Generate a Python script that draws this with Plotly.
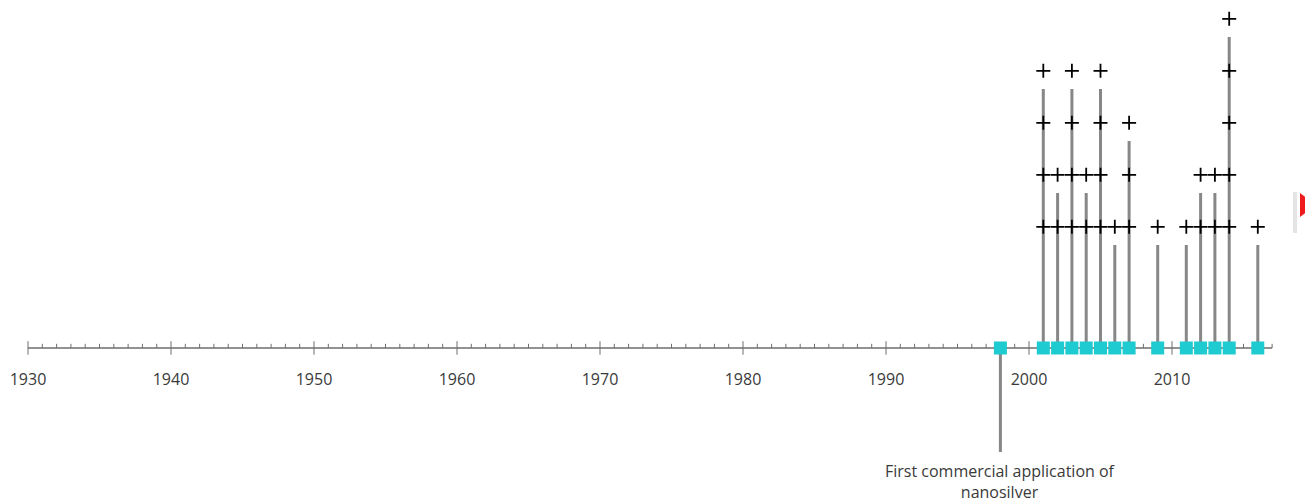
import plotly.graph_objects as go

# ---- data ----
years = [2001, 2002, 2003, 2004, 2005, 2006, 2007, 2009, 2011, 2012, 2013, 2014, 2016]
counts = [4, 2, 4, 2, 4, 1, 3, 1, 1, 2, 2, 5, 1]
milestone_year = [1998]
milestone_text = ["First commercial application of<br>nanosilver"]
axis_start, axis_end = 1930, 2017
tick_labels = [1930, 1940, 1950, 1960, 1970, 1980, 1990, 2000, 2010]

# ---- styling constants ----
STEM_COLOR = "#878787"
SQ_COLOR = "#1ecbd0"
AXIS_COLOR = "#6e6e6e"
TEXT_COLOR = "#3a3a3a"
FONT = "Open Sans"
STEM_EXTRA = 0.98
CROSS_OFFSET = 1.33
DOWN_STEM = -2.0

fig = go.Figure()

# axis line
fig.add_trace(go.Scatter(x=[axis_start, axis_end], y=[0, 0], mode="lines",
                         line=dict(color=AXIS_COLOR, width=1.5), hoverinfo="skip"))

# ticks
tx, ty = [], []
for yr in range(axis_start, axis_end + 1):
    if yr % 10 == 0:
        tx += [yr, yr, None]
        ty += [-0.13, 0.13, None]
    else:
        tx += [yr, yr, None]
        ty += [0, 0.08, None]
fig.add_trace(go.Scatter(x=tx, y=ty, mode="lines",
                         line=dict(color=AXIS_COLOR, width=1), hoverinfo="skip"))

# tick labels
fig.add_trace(go.Scatter(x=tick_labels, y=[-0.63] * len(tick_labels), mode="text",
                         text=[str(t) for t in tick_labels],
                         textfont=dict(family=FONT, size=16, color=TEXT_COLOR),
                         hoverinfo="skip"))

# up stems
sx, sy = [], []
for yr, n in zip(years, counts):
    sx += [yr, yr, None]
    sy += [0, n + STEM_EXTRA, None]
# down stem for milestone
for yr in milestone_year:
    sx += [yr, yr, None]
    sy += [0, DOWN_STEM, None]
fig.add_trace(go.Scatter(x=sx, y=sy, mode="lines",
                         line=dict(color=STEM_COLOR, width=3), hoverinfo="skip"))

# plus markers
px_, py_ = [], []
for yr, n in zip(years, counts):
    for k in range(1, n + 1):
        px_.append(yr)
        py_.append(k + CROSS_OFFSET)
fig.add_trace(go.Scatter(x=px_, y=py_, mode="markers",
                         marker=dict(symbol="cross-thin", size=10,
                                     line=dict(color="black", width=1.8)),
                         hoverinfo="skip"))

# squares on axis
fig.add_trace(go.Scatter(x=milestone_year + years, y=[0] * (len(years) + 1), mode="markers",
                         marker=dict(symbol="square", size=13, color=SQ_COLOR),
                         hoverinfo="skip"))

# milestone label
annotations = [
    dict(x=yr, y=DOWN_STEM, xref="x", yref="y", text=t, showarrow=False,
         yanchor="top", xanchor="center", yshift=-6,
         font=dict(family=FONT, size=16, color=TEXT_COLOR))
    for yr, t in zip(milestone_year, milestone_text)
]

W, H = 1305, 494  # page body has an 8px default margin
# flag decoration at right edge
shapes = [
    dict(type="rect", xref="paper", yref="paper",
         x0=1285 / W, x1=1289 / W, y0=1 - 225 / H, y1=1 - 184 / H,
         fillcolor="#e4e4e4", line=dict(width=0)),
    dict(type="path", xref="paper", yref="paper",
         path=f"M {1292/W} {1-185/H} L {1305/W} {1-195/H} L {1305/W} {1-199/H} L {1292/W} {1-209/H} Z",
         fillcolor="#ee1c1c", line=dict(width=0)),
]

fig.update_layout(
    width=W, height=H,
    margin=dict(l=0, r=0, t=0, b=0),
    paper_bgcolor="white", plot_bgcolor="white",
    showlegend=False,
    xaxis=dict(range=[1928.601, 2019.860], visible=False, fixedrange=True),
    yaxis=dict(range=[-2.962, 6.538], visible=False, fixedrange=True),
    shapes=shapes,
    annotations=annotations,
)

fig.write_html("out.html")
